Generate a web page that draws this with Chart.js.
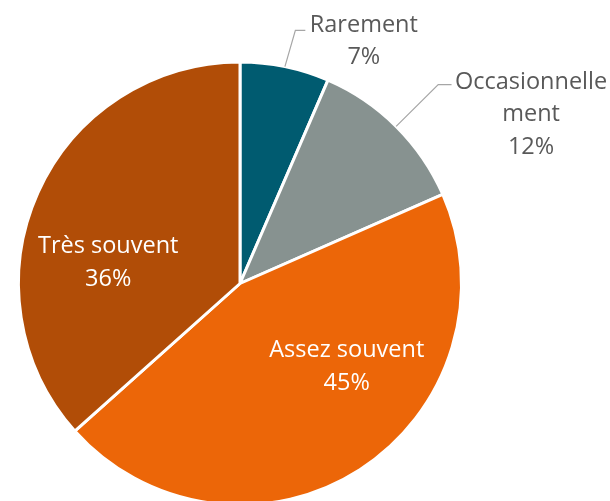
<!DOCTYPE html>
<html>
<head>
<meta charset="utf-8">
<script src="https://cdn.jsdelivr.net/npm/chart.js@4"></script>
<style>
  html, body { margin: 0; padding: 0; background: #fff; overflow: hidden; }
  #wrap { position: relative; width: 610px; height: 568px; }
</style>
</head>
<body>
<div id="wrap"><canvas id="chart" width="610" height="568"></canvas></div>
<script>
const categories = ['Rarement', 'Occasionnellement', 'Assez souvent', 'Très souvent'];
const values = [6.5, 11.9, 45, 36.6];
const percentLabels = ['7%', '12%', '45%', '36%'];
const colors = ['#005b70', '#879290', '#ec6608', '#b14d07'];

// category text as it wraps in the picture
const nameLines = [
  ['Rarement'],
  ['Occasionnelle', 'ment'],
  ['Assez souvent'],
  ['Très souvent']
];

// label x centre and first baseline, leader elbow, in units of the pie radius from the centre
const labelPos = [
  { x: 0.559, y: -1.137, elbow: { x: 0.25, y: -1.143 }, end: { x: 0.295, y: -1.143 }, outside: true },
  { x: 1.314, y: -0.880, elbow: { x: 0.895, y: -0.898 }, end: { x: 0.955, y: -0.898 }, outside: true },
  { x: 0.482, y: 0.333, outside: false },
  { x: -0.595, y: -0.137, outside: false }
];

const labelPlugin = {
  id: 'sliceLabels',
  afterDatasetsDraw(chart) {
    const ctx = chart.ctx;
    const meta = chart.getDatasetMeta(0);
    ctx.save();
    ctx.font = '23.5px "Open Sans"';
    ctx.textAlign = 'center';
    ctx.textBaseline = 'alphabetic';
    meta.data.forEach((arc, i) => {
      const p = labelPos[i];
      const r = arc.outerRadius;
      const cx = arc.x, cy = arc.y;
      const lh = 32.5;
      const lines = nameLines[i].concat([percentLabels[i]]);
      if (p.outside) {
        const mid = (arc.startAngle + arc.endAngle) / 2;
        ctx.strokeStyle = '#a6a6a6';
        ctx.lineWidth = 1.2;
        ctx.beginPath();
        ctx.moveTo(cx + Math.cos(mid) * r, cy + Math.sin(mid) * r);
        ctx.lineTo(cx + p.elbow.x * r, cy + p.elbow.y * r);
        ctx.lineTo(cx + p.end.x * r, cy + p.end.y * r);
        ctx.stroke();
        ctx.fillStyle = '#595959';
      } else {
        ctx.fillStyle = '#ffffff';
      }
      const tx = cx + p.x * r;
      const ty = cy + p.y * r;
      lines.forEach((t, k) => ctx.fillText(t, tx, ty + k * lh));
    });
    ctx.restore();
  }
};

let chartCanv = document.getElementById('chart').getContext('2d');

let chart = new Chart(chartCanv, {
  type: 'pie',
  data: {
    labels: categories,
    datasets: [{
      data: values,
      backgroundColor: colors,
      borderColor: '#ffffff',
      borderWidth: 3
    }]
  },
  options: {
    responsive: false,
    animation: false,
    layout: { padding: { left: 17, right: 147, top: 60, bottom: 61 } },
    plugins: {
      legend: { display: false },
      tooltip: { enabled: false }
    }
  },
  plugins: [labelPlugin]
});
</script>
</body>
</html>
